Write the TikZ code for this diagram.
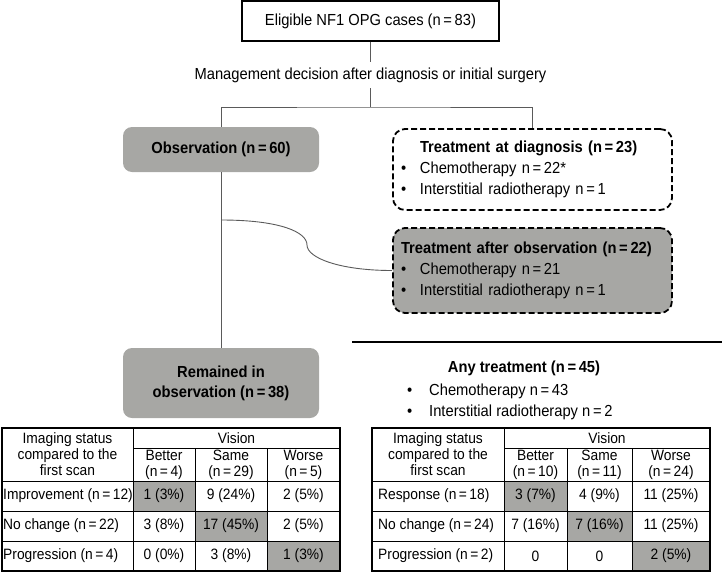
\documentclass[tikz,border=0pt]{standalone}
\usepackage{fontspec}
\setmainfont[FakeStretch=0.92]{Liberation Sans}
\usetikzlibrary{positioning}
\definecolor{boxgray}{HTML}{A7A7A4}
\definecolor{linegray}{HTML}{5A5A5A}

\begin{document}
\begin{tikzpicture}[x=1pt,y=-1pt]
		\useasboundingbox (0,0) rectangle (722,573);
		\tikzstyle{plainbox}=[draw,line width=1.2pt,minimum width=257,minimum height=40,font=\fontsize{16}{19}\selectfont]
		\tikzstyle{graybox}=[fill=boxgray,rounded corners=9pt,minimum width=196,align=center,font=\fontsize{16}{20}\selectfont\bfseries]
		\tikzstyle{dashbox}=[draw,line width=1.8pt,dash pattern=on 6pt off 3pt,rounded corners=12pt,text width=263,inner xsep=8,align=left,font=\fontsize{16}{21}\selectfont]
		\tikzstyle{link}=[draw=linegray,line width=0.9pt]
		\tikzstyle{cell}=[inner sep=0,align=center,font=\fontsize{15}{16}\selectfont]
		% flow part
		\node[plainbox] (elig) at (370.5,21) {Eligible NF1 OPG cases (n\,=\,83)};
		\node[inner sep=0,minimum height=26,font=\fontsize{16}{19}\selectfont] (decis) at (370.5,75) {Management decision after diagnosis or initial surgery};
		\node[graybox,minimum height=45] (obs) at (221,149.5) {Observation (n\,=\,60)};
		\node[dashbox,minimum height=81] (treatdx) at (532.5,169.5) {\begin{tabular}{@{}p{19pt}@{}l@{}}
			& \textbf{Treatment at diagnosis (n\,=\,23)}\\
			\textbullet & Chemotherapy n\,=\,22*\\
			\textbullet & Interstitial radiotherapy n\,=\,1
		\end{tabular}};
		\node[dashbox,fill=boxgray,minimum height=85] (treatafter) at (532.5,270.5) {\begin{tabular}{@{}p{19pt}@{}l@{}}
			\multicolumn{2}{@{}l@{}}{\textbf{Treatment after observation (n\,=\,22)}}\\
			\textbullet & Chemotherapy n\,=\,21\\
			\textbullet & Interstitial radiotherapy n\,=\,1
		\end{tabular}};
		\node[graybox,minimum height=70] (remained) at (221,383) {Remained in\\observation (n\,=\,38)};
		\coordinate (split) at (370.5,107);
		\coordinate (branch) at (221,220);
		\draw[link] (elig) -- (decis);
		\draw[link] (decis) -- (split);
		\draw[link] (obs.north) |- (split) -| (treatdx.north);
		\draw[link] (obs) -- (remained);
		\draw[link] (branch) .. controls (280,220) and (307,232) .. (307,245) .. controls (307,258) and (340,270.5) .. (treatafter.west);
		% any treatment
		\draw[line width=2pt] (352,342) -- (722,342);
		\node[font=\fontsize{16}{21}\selectfont\bfseries] (anytitle) at (524,368) {Any treatment (n\,=\,45)};
		\node[anchor=north west,inner sep=0,font=\fontsize{16}{21}\selectfont] (anylist) at (407,381) {\begin{tabular}{@{}p{22pt}@{}l@{}}
			\textbullet & Chemotherapy n\,=\,43\\
			\textbullet & Interstitial radiotherapy n\,=\,2
		\end{tabular}};
		% left table
		\fill[boxgray] (133,481) rectangle (195,511);
		\fill[boxgray] (195,511) rectangle (267,541);
		\fill[boxgray] (267,541) rectangle (340,571);
		\draw[line width=1.1pt] (2,428) rectangle (340,571);
		\draw (133,428) -- (133,571);
		\draw (133,448) -- (340,448);
		\foreach \y in {481,511,541} \draw (2,\y) -- (340,\y);
		\foreach \x in {195,267} \draw (\x,448) -- (\x,571);
		\node[cell] (lhead) at (67.5,454) {Imaging status\\compared to the\\first scan};
		\node[cell] (lvision) at (236.5,438) {Vision};
		\node[cell] (lbetter) at (164,465) {Better\\(n\,=\,4)};
		\node[cell] (lsame) at (231,465) {Same\\(n\,=\,29)};
		\node[cell] (lworse) at (303.5,465) {Worse\\(n\,=\,5)};
		\foreach \lab/\a/\b/\c/\y in {Improvement (n\,=\,12)/1 (3\%)/9 (24\%)/2 (5\%)/496,
				No change (n\,=\,22)/3 (8\%)/17 (45\%)/2 (5\%)/526,
				Progression (n\,=\,4)/0 (0\%)/3 (8\%)/1 (3\%)/556}{
			\node[cell,anchor=west] (lrow\y) at (3,\y) {\lab};
			\node[cell] (la\y) at (164,\y) {\a};
			\node[cell] (lb\y) at (231,\y) {\b};
			\node[cell] (lc\y) at (303.5,\y) {\c};
		}
		% right table
		\fill[boxgray] (504,481) rectangle (567,511);
		\fill[boxgray] (567,511) rectangle (632,541);
		\fill[boxgray] (632,541) rectangle (710,571);
		\draw[line width=1.1pt] (372,428) rectangle (710,571);
		\draw (504,428) -- (504,571);
		\draw (504,448) -- (710,448);
		\foreach \y in {481,511,541} \draw (372,\y) -- (710,\y);
		\foreach \x in {567,632} \draw (\x,448) -- (\x,571);
		\node[cell] (rhead) at (438,454) {Imaging status\\compared to the\\first scan};
		\node[cell] (rvision) at (607,438) {Vision};
		\node[cell] (rbetter) at (535.5,465) {Better\\(n\,=\,10)};
		\node[cell] (rsame) at (599.5,465) {Same\\(n\,=\,11)};
		\node[cell] (rworse) at (671,465) {Worse\\(n\,=\,24)};
		\foreach \lab/\a/\b/\c/\y in {Response (n\,=\,18)/3 (7\%)/4 (9\%)/11 (25\%)/496,
				No change (n\,=\,24)/7 (16\%)/7 (16\%)/11 (25\%)/526,
				Progression (n\,=\,2)/0/0/2 (5\%)/556}{
			\node[cell,anchor=west] (rrow\y) at (378,\y) {\lab};
			\node[cell] (ra\y) at (535.5,\y) {\a};
			\node[cell] (rb\y) at (599.5,\y) {\b};
			\node[cell] (rc\y) at (671,\y) {\c};
		}
	\end{tikzpicture}
\end{document}
